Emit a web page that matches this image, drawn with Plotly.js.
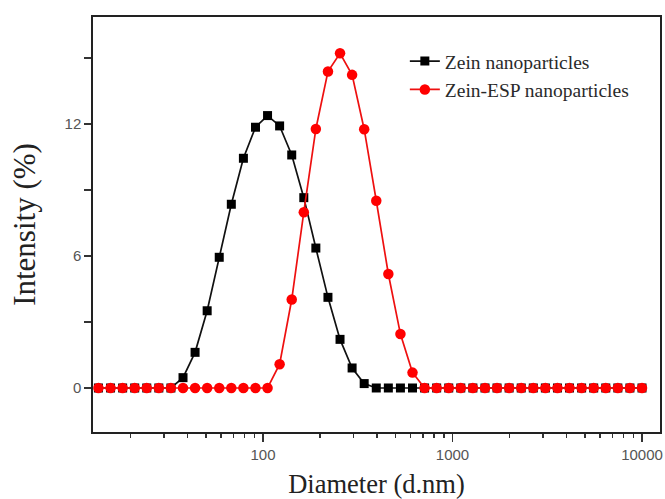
<!DOCTYPE html>
<html>
<head>
<meta charset="utf-8">
<script src="https://cdn.plot.ly/plotly-3.0.1.min.js"></script>
<style>html,body{margin:0;padding:0;background:#fff;}#chart{width:665px;height:499px;}</style>
</head>
<body>
<div id="chart"></div>
<script>
// Diameter bins (d.nm)
const diameters = [13.54, 15.69, 18.17, 21.04, 24.36, 28.21, 32.67, 37.84, 43.82, 50.75,
  58.77, 68.06, 78.82, 91.28, 105.7, 122.4, 141.8, 164.2, 190.1, 220.2,
  255.0, 295.3, 342.0, 396.1, 458.7, 531.2, 615.1, 712.4, 825.0, 955.4,
  1106, 1281, 1484, 1718, 1990, 2305, 2669, 3091, 3580, 4145,
  4801, 5560, 6439, 7456, 8635, 10000];
// Intensity (%) - Zein nanoparticles
const zein = [0, 0, 0, 0, 0, 0, 0, 0.47, 1.62, 3.51,
  5.94, 8.35, 10.44, 11.85, 12.38, 11.91, 10.59, 8.65, 6.36, 4.12,
  2.21, 0.91, 0.20, 0, 0, 0, 0, 0, 0, 0,
  0, 0, 0, 0, 0, 0, 0, 0, 0, 0,
  0, 0, 0, 0, 0, 0];
// Intensity (%) - Zein-ESP nanoparticles
const zeinESP = [0, 0, 0, 0, 0, 0, 0, 0, 0, 0,
  0, 0, 0, 0, 0, 1.08, 4.02, 7.99, 11.77, 14.38,
  15.21, 14.23, 11.76, 8.51, 5.18, 2.45, 0.70, 0, 0, 0,
  0, 0, 0, 0, 0, 0, 0, 0, 0, 0,
  0, 0, 0, 0, 0, 0];
const seriesNames = ["Zein nanoparticles", "Zein-ESP nanoparticles"];
const xTickVals = [100, 1000, 10000];
const xTickText = ["100", "1000", "10000"];
const xMinorVals = [20, 30, 40, 50, 60, 70, 80, 90, 200, 300, 400, 500, 600, 700, 800, 900,
  2000, 3000, 4000, 5000, 6000, 7000, 8000, 9000];
const yTickVals = [0, 6, 12];
const yTickText = ["0", "6", "12"];
const yMinorVals = [3, 9, 15];

const serif = "'Liberation Serif', 'Times New Roman', serif";
const sans = "'Liberation Sans', Arial, sans-serif";

const traces = [
  {x: diameters, y: zein, name: seriesNames[0], type: "scatter", mode: "lines+markers",
   line: {color: "#111111", width: 1.7}, marker: {symbol: "square", size: 9, color: "#000000"}},
  {x: diameters, y: zeinESP, name: seriesNames[1], type: "scatter", mode: "lines+markers",
   line: {color: "#ee1010", width: 1.7}, marker: {symbol: "circle", size: 10.5, color: "#ff0000"}}
];

const layout = {
  width: 665, height: 499,
  margin: {l: 93, r: 5, t: 17, b: 67},
  paper_bgcolor: "#ffffff", plot_bgcolor: "#ffffff",
  showlegend: true,
  legend: {x: 0.55, y: 0.94, xanchor: "left", yanchor: "top", bgcolor: "rgba(0,0,0,0)",
    font: {family: serif, size: 19.5, color: "#2a2a2a"},
    tracegroupgap: 0, itemwidth: 30},
  xaxis: {
    type: "log", range: [1.103, 4.095],
    tickvals: xTickVals, ticktext: xTickText,
    ticks: "outside", ticklen: 8, tickwidth: 1.4, tickcolor: "#333",
    minor: {tickvals: xMinorVals, ticks: "outside", ticklen: 4, tickwidth: 1.4, tickcolor: "#333"},
    showline: true, linecolor: "#222", linewidth: 1.7, mirror: true,
    showgrid: false, zeroline: false,
    tickfont: {family: sans, size: 15, color: "#555"},
    title: {text: "Diameter (d.nm)", standoff: 15,
      font: {family: serif, size: 26.5, color: "#222"}}
  },
  yaxis: {
    range: [-2.0, 16.86],
    tickvals: yTickVals, ticktext: yTickText,
    ticks: "outside", ticklen: 7, tickwidth: 1.4, tickcolor: "#333",
    minor: {tickvals: yMinorVals, ticks: "outside", ticklen: 7, tickwidth: 1.4, tickcolor: "#333"},
    showline: true, linecolor: "#222", linewidth: 1.7, mirror: true,
    showgrid: false, zeroline: false,
    tickfont: {family: sans, size: 15, color: "#555"},
    title: {text: "Intensity (%)", standoff: 20,
      font: {family: serif, size: 31, color: "#222"}}
  }
};

Plotly.newPlot("chart", traces, layout, {displayModeBar: false, staticPlot: true});
</script>
</body>
</html>
